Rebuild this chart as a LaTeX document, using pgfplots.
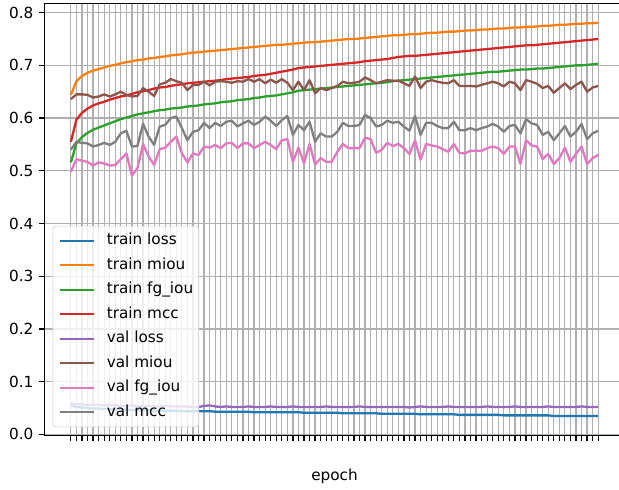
\documentclass[border=0pt]{standalone}
\usepackage{fontspec}
\setmainfont{DejaVu Sans}
\usepackage{pgfplots}
\usepackage{pgfplotstable}
\pgfplotsset{compat=1.18}
\usetikzlibrary{calc}

\definecolor{c0}{HTML}{1F77B4}
\definecolor{c1}{HTML}{FF7F0E}
\definecolor{c2}{HTML}{2CA02C}
\definecolor{c3}{HTML}{D62728}
\definecolor{c4}{HTML}{9467BD}
\definecolor{c5}{HTML}{8C564B}
\definecolor{c6}{HTML}{E377C2}
\definecolor{c7}{HTML}{7F7F7F}
\definecolor{gridgray}{HTML}{B0B0B0}
\definecolor{legendgray}{HTML}{CCCCCC}

% epoch, train loss/miou/fg_iou/mcc, val loss/miou/fg_iou/mcc
\pgfplotstableread{
ep tl tm tf tc vl vm vf vc
0 0.055 0.644 0.516 0.555 0.059 0.636 0.498 0.540
1 0.052 0.670 0.552 0.597 0.057 0.645 0.522 0.555
2 0.051 0.680 0.564 0.610 0.057 0.645 0.519 0.553
3 0.050 0.686 0.572 0.618 0.056 0.644 0.517 0.552
4 0.049 0.690 0.578 0.624 0.056 0.639 0.510 0.546
5 0.049 0.693 0.582 0.628 0.056 0.641 0.516 0.549
6 0.048 0.696 0.586 0.631 0.055 0.645 0.514 0.553
7 0.048 0.699 0.590 0.635 0.055 0.641 0.510 0.549
8 0.047 0.701 0.594 0.638 0.055 0.645 0.511 0.555
9 0.047 0.704 0.598 0.641 0.054 0.650 0.522 0.571
10 0.047 0.706 0.601 0.643 0.054 0.644 0.533 0.576
11 0.046 0.708 0.604 0.646 0.055 0.641 0.491 0.546
12 0.046 0.710 0.607 0.649 0.054 0.642 0.505 0.547
13 0.046 0.711 0.609 0.651 0.054 0.657 0.551 0.589
14 0.046 0.713 0.611 0.653 0.054 0.650 0.527 0.565
15 0.045 0.714 0.613 0.656 0.053 0.642 0.511 0.549
16 0.045 0.716 0.615 0.658 0.053 0.664 0.541 0.584
17 0.045 0.717 0.616 0.659 0.054 0.667 0.544 0.587
18 0.045 0.719 0.618 0.661 0.053 0.674 0.555 0.600
19 0.045 0.720 0.619 0.663 0.053 0.670 0.565 0.603
20 0.044 0.721 0.620 0.664 0.053 0.667 0.533 0.581
21 0.044 0.723 0.622 0.666 0.053 0.653 0.516 0.558
22 0.044 0.724 0.623 0.667 0.052 0.663 0.533 0.574
23 0.044 0.725 0.624 0.668 0.052 0.663 0.530 0.577
24 0.044 0.726 0.626 0.669 0.054 0.669 0.546 0.591
25 0.044 0.727 0.627 0.670 0.055 0.662 0.544 0.581
26 0.043 0.728 0.628 0.671 0.053 0.669 0.549 0.591
27 0.043 0.729 0.630 0.672 0.052 0.670 0.543 0.585
28 0.043 0.730 0.631 0.674 0.053 0.669 0.552 0.593
29 0.043 0.731 0.632 0.675 0.052 0.667 0.553 0.595
30 0.043 0.732 0.634 0.676 0.052 0.670 0.543 0.584
31 0.043 0.733 0.635 0.677 0.052 0.669 0.552 0.590
32 0.043 0.734 0.636 0.678 0.053 0.674 0.552 0.595
33 0.042 0.735 0.638 0.680 0.052 0.669 0.543 0.587
34 0.042 0.736 0.639 0.681 0.052 0.674 0.549 0.593
35 0.042 0.737 0.641 0.682 0.052 0.666 0.555 0.603
36 0.042 0.738 0.642 0.684 0.053 0.673 0.549 0.595
37 0.042 0.739 0.643 0.686 0.052 0.667 0.541 0.585
38 0.042 0.739 0.645 0.688 0.052 0.674 0.558 0.596
39 0.042 0.740 0.647 0.690 0.052 0.667 0.560 0.604
40 0.042 0.741 0.649 0.692 0.053 0.653 0.517 0.568
41 0.042 0.742 0.652 0.695 0.052 0.669 0.544 0.587
42 0.041 0.743 0.653 0.696 0.052 0.653 0.514 0.577
43 0.041 0.744 0.654 0.697 0.052 0.672 0.551 0.593
44 0.041 0.744 0.655 0.698 0.052 0.647 0.512 0.555
45 0.041 0.745 0.656 0.699 0.052 0.657 0.524 0.571
46 0.041 0.746 0.657 0.700 0.053 0.653 0.517 0.565
47 0.041 0.747 0.658 0.701 0.052 0.657 0.517 0.565
48 0.041 0.748 0.659 0.702 0.052 0.661 0.536 0.574
49 0.040 0.749 0.660 0.703 0.052 0.669 0.551 0.591
50 0.040 0.750 0.661 0.704 0.052 0.666 0.543 0.585
51 0.040 0.750 0.662 0.705 0.052 0.667 0.543 0.585
52 0.040 0.751 0.663 0.706 0.053 0.669 0.543 0.587
53 0.040 0.752 0.664 0.708 0.052 0.677 0.563 0.606
54 0.040 0.753 0.665 0.709 0.052 0.672 0.560 0.600
55 0.040 0.754 0.666 0.710 0.052 0.666 0.534 0.584
56 0.039 0.755 0.667 0.711 0.052 0.669 0.540 0.587
57 0.039 0.756 0.668 0.712 0.052 0.672 0.553 0.595
58 0.039 0.757 0.670 0.714 0.052 0.671 0.547 0.591
59 0.039 0.757 0.671 0.716 0.052 0.671 0.551 0.593
60 0.039 0.758 0.672 0.717 0.052 0.666 0.543 0.584
61 0.039 0.759 0.673 0.718 0.051 0.661 0.532 0.576
62 0.039 0.759 0.674 0.718 0.052 0.679 0.558 0.604
63 0.038 0.760 0.675 0.719 0.053 0.657 0.521 0.568
64 0.038 0.761 0.676 0.720 0.052 0.669 0.551 0.591
65 0.038 0.762 0.677 0.721 0.052 0.672 0.548 0.591
66 0.038 0.762 0.678 0.722 0.052 0.669 0.546 0.585
67 0.038 0.763 0.679 0.723 0.052 0.667 0.541 0.581
68 0.038 0.764 0.680 0.724 0.053 0.666 0.536 0.581
69 0.038 0.764 0.681 0.725 0.052 0.672 0.551 0.593
70 0.037 0.765 0.682 0.726 0.052 0.661 0.534 0.577
71 0.037 0.766 0.683 0.727 0.052 0.661 0.533 0.577
72 0.037 0.766 0.684 0.728 0.052 0.661 0.538 0.581
73 0.037 0.767 0.685 0.729 0.052 0.660 0.538 0.577
74 0.037 0.768 0.686 0.730 0.052 0.663 0.538 0.581
75 0.037 0.768 0.687 0.731 0.053 0.666 0.543 0.584
76 0.037 0.769 0.688 0.732 0.052 0.669 0.546 0.589
77 0.037 0.770 0.688 0.733 0.052 0.666 0.543 0.584
78 0.036 0.770 0.689 0.734 0.052 0.660 0.532 0.574
79 0.036 0.771 0.690 0.735 0.052 0.669 0.546 0.585
80 0.036 0.772 0.691 0.736 0.053 0.666 0.546 0.587
81 0.036 0.772 0.692 0.737 0.052 0.653 0.513 0.571
82 0.036 0.773 0.692 0.738 0.052 0.672 0.558 0.598
83 0.036 0.773 0.693 0.738 0.052 0.669 0.548 0.590
84 0.036 0.774 0.694 0.739 0.052 0.665 0.546 0.587
85 0.036 0.775 0.694 0.740 0.052 0.657 0.522 0.568
86 0.036 0.775 0.695 0.741 0.053 0.661 0.532 0.574
87 0.035 0.776 0.696 0.742 0.052 0.648 0.513 0.558
88 0.035 0.777 0.697 0.743 0.052 0.657 0.524 0.571
89 0.035 0.777 0.698 0.744 0.052 0.666 0.544 0.585
90 0.035 0.778 0.699 0.745 0.052 0.655 0.517 0.565
91 0.035 0.779 0.700 0.746 0.052 0.663 0.532 0.574
92 0.035 0.779 0.700 0.747 0.053 0.669 0.546 0.589
93 0.035 0.780 0.701 0.748 0.052 0.650 0.513 0.560
94 0.035 0.780 0.702 0.749 0.052 0.658 0.524 0.571
95 0.035 0.781 0.703 0.750 0.052 0.661 0.530 0.576
}\hist

\begin{document}
\begin{tikzpicture}[font=\fontsize{11}{13}\selectfont]
\pgfplotsset{pl/.style={line width=1.65pt, line join=round}}
\begin{axis}[
    name=ax,
    scale only axis,
    width=417.6pt, height=311.3pt,
    xmin=-4.75, xmax=99.75,
    ymin=-0.0023, ymax=0.818,
    xtick={0,...,95},
    xticklabel=\empty,
    ytick={0,0.1,0.2,0.3,0.4,0.5,0.6,0.7,0.8},
    ticklabel style={font=\fontsize{11}{13}\selectfont},
    yticklabel style={anchor=east, inner sep=0pt, xshift=-3.9pt,
        /pgf/number format/fixed, /pgf/number format/fixed zerofill,
        /pgf/number format/precision=1, /pgf/number format/assume math mode=true},
    tick pos=left,
    tick align=outside,
    major tick length=3.85pt,
    tick style={black, line width=0.88pt},
    axis line style={black, line width=0.88pt},
    grid=major,
    grid style={gridgray, line width=0.88pt},
    xlabel={epoch},
    label style={font=\fontsize{11}{13}\selectfont},
    xlabel style={at={(axis description cs:0.5,0)}, anchor=base, yshift=-32pt, inner sep=0pt},
    legend cell align=left,
    legend image code/.code={\draw[#1] (0pt,0pt) -- (24.5pt,0pt);},
    legend style={at={(0.0141,0.0197)}, anchor=south west,
        fill=white, fill opacity=0.8, draw opacity=1, text opacity=1,
        draw=legendgray, rounded corners=2pt,
        font=\fontsize{11}{13}\selectfont,
        inner xsep=4pt, inner ysep=5pt, row sep=6.64pt, column sep=8.6pt,
        nodes={inner sep=0pt, text height=8.4pt, text depth=2.6pt}},
]
\addplot[c0, pl] table[x=ep, y=tl] {\hist};
\addlegendentry{train loss}
\addplot[c1, pl] table[x=ep, y=tm] {\hist};
\addlegendentry{train miou}
\addplot[c2, pl] table[x=ep, y=tf] {\hist};
\addlegendentry{train fg\_iou}
\addplot[c3, pl] table[x=ep, y=tc] {\hist};
\addlegendentry{train mcc}
\addplot[c4, pl] table[x=ep, y=vl] {\hist};
\addlegendentry{val loss}
\addplot[c5, pl] table[x=ep, y=vm] {\hist};
\addlegendentry{val miou}
\addplot[c6, pl] table[x=ep, y=vf] {\hist};
\addlegendentry{val fg\_iou}
\addplot[c7, pl] table[x=ep, y=vc] {\hist};
\addlegendentry{val mcc}
\end{axis}
\pgfresetboundingbox
\path[use as bounding box] ($(ax.south west)+(-32.04pt,-38.5pt)$) rectangle ($(ax.south west)+(413.6pt,313.6pt)$);
\end{tikzpicture}
\end{document}
